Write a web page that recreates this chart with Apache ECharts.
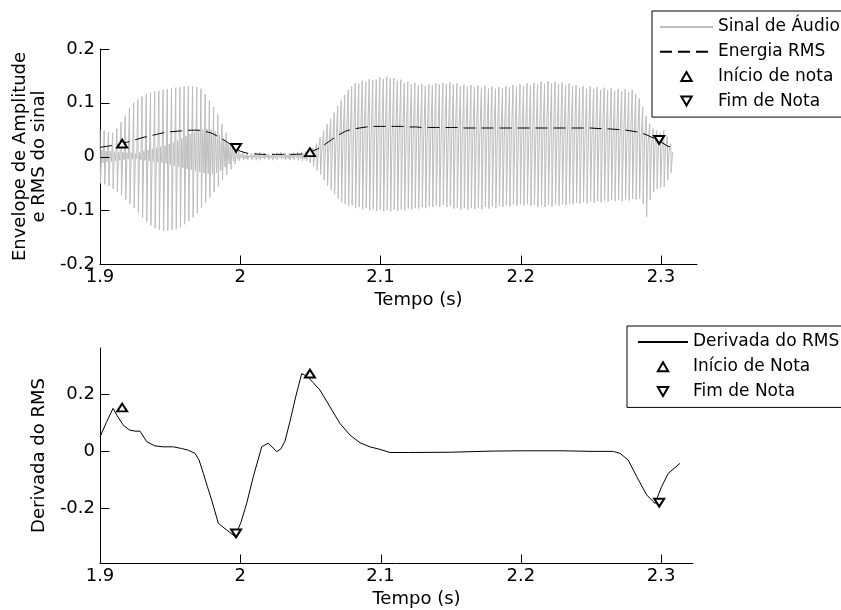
<!DOCTYPE html>
<html>
<head>
<meta charset="utf-8">
<script src="https://cdn.jsdelivr.net/npm/echarts@6.0.0/dist/echarts.min.js"></script>
<style>
  html, body { margin: 0; padding: 0; background: #fff; }
  #chart { width: 841px; height: 610px; }
</style>
</head>
<body>
<div id="chart"></div>
<script>
// ---- Audio signal, one entry per waveform cycle ----
// First note and the quiet gap after it: peak, trough and the inner swing of each cycle
const note1Start = 1.9;
const note1Period = 0.003;
const note1Peaks = [
  0.050, 0.048, 0.046, 0.044, 0.052, 0.064, 0.076, 0.090, 0.100, 0.106,
  0.112, 0.116, 0.119, 0.121, 0.122, 0.124, 0.125, 0.127, 0.128, 0.129,
  0.130, 0.131, 0.131, 0.129, 0.126, 0.116, 0.104, 0.092, 0.078, 0.060,
  0.044, 0.026, 0.014, 0.010, 0.008, 0.007, 0.006, 0.007, 0.008, 0.006,
  0.005, 0.006, 0.007, 0.008, 0.007, 0.006, 0.007, 0.008, 0.009
];
const note1Troughs = [
  -0.050, -0.052, -0.055, -0.060, -0.066, -0.072, -0.080, -0.088, -0.096, -0.104,
  -0.114, -0.122, -0.128, -0.133, -0.136, -0.138, -0.138, -0.137, -0.135, -0.132,
  -0.126, -0.120, -0.113, -0.105, -0.096, -0.086, -0.076, -0.066, -0.056, -0.044,
  -0.034, -0.024, -0.014, -0.008, -0.007, -0.006, -0.006, -0.007, -0.006, -0.005,
  -0.006, -0.007, -0.006, -0.005, -0.006, -0.007, -0.006, -0.007, -0.008
];
const note1InnerHigh = [
  0.012, 0.010, 0.010, 0.009, 0.008, 0.008, 0.007, 0.007, 0.006, 0.008,
  0.010, 0.012, 0.014, 0.016, 0.018, 0.020, 0.023, 0.026, 0.030, 0.034,
  0.038, 0.042, 0.045, 0.048, 0.050, 0.051, 0.050, 0.046, 0.040, 0.032,
  0.024, 0.016, 0.010, 0.004, 0.003, 0.002, 0.003, 0.004, 0.002, 0.003,
  0.002, 0.004, 0.003, 0.002, 0.003, 0.004, 0.003, 0.004, 0.005
];
const note1InnerLow = [
  -0.012, -0.010, -0.009, -0.008, -0.007, -0.006, -0.005, -0.005, -0.004, -0.006,
  -0.007, -0.008, -0.009, -0.010, -0.011, -0.013, -0.015, -0.017, -0.019, -0.021,
  -0.023, -0.025, -0.027, -0.029, -0.031, -0.032, -0.032, -0.030, -0.026, -0.020,
  -0.014, -0.009, -0.005, -0.003, -0.004, -0.002, -0.003, -0.004, -0.003, -0.002,
  -0.003, -0.004, -0.002, -0.003, -0.004, -0.003, -0.002, -0.004, -0.005
];

// Second note: peak, trough and the rebound level of each cycle
const note2Start = 2.047;
const note2Period = 0.0025;
const note2Peaks = [
  0.010, 0.012, 0.016, 0.024, 0.036, 0.048, 0.060, 0.070, 0.082, 0.094,
  0.104, 0.114, 0.124, 0.130, 0.136, 0.135, 0.141, 0.139, 0.144, 0.142,
  0.143, 0.147, 0.144, 0.148, 0.145, 0.146, 0.141, 0.143, 0.137, 0.139,
  0.134, 0.137, 0.133, 0.135, 0.131, 0.134, 0.132, 0.136, 0.134, 0.137,
  0.135, 0.138, 0.134, 0.136, 0.131, 0.134, 0.130, 0.133, 0.129, 0.132,
  0.128, 0.131, 0.127, 0.130, 0.126, 0.129, 0.127, 0.131, 0.129, 0.133,
  0.130, 0.134, 0.131, 0.136, 0.132, 0.137, 0.134, 0.139, 0.135, 0.140,
  0.136, 0.139, 0.135, 0.138, 0.133, 0.136, 0.131, 0.133, 0.128, 0.131,
  0.126, 0.130, 0.125, 0.129, 0.124, 0.128, 0.123, 0.127, 0.122, 0.126,
  0.121, 0.125, 0.120, 0.124, 0.116, 0.108, 0.092, 0.076, 0.061, 0.052,
  0.048, 0.044, 0.049, 0.038, 0.024
];
const note2Troughs = [
  -0.008, -0.012, -0.018, -0.026, -0.034, -0.044, -0.054, -0.062, -0.070, -0.078,
  -0.085, -0.088, -0.092, -0.091, -0.096, -0.094, -0.098, -0.096, -0.100, -0.098,
  -0.101, -0.099, -0.102, -0.100, -0.102, -0.099, -0.101, -0.098, -0.100, -0.097,
  -0.099, -0.096, -0.097, -0.094, -0.096, -0.093, -0.094, -0.091, -0.093, -0.090,
  -0.094, -0.092, -0.097, -0.095, -0.099, -0.096, -0.099, -0.096, -0.098, -0.095,
  -0.098, -0.094, -0.097, -0.093, -0.096, -0.092, -0.094, -0.091, -0.093, -0.089,
  -0.092, -0.089, -0.091, -0.088, -0.092, -0.090, -0.094, -0.091, -0.094, -0.090,
  -0.093, -0.090, -0.092, -0.089, -0.091, -0.088, -0.089, -0.086, -0.088, -0.085,
  -0.087, -0.084, -0.086, -0.083, -0.085, -0.082, -0.084, -0.081, -0.083, -0.080,
  -0.083, -0.080, -0.082, -0.079, -0.080, -0.078, -0.088, -0.112, -0.080, -0.066,
  -0.060, -0.058, -0.056, -0.044, -0.030
];
const note2Rebound = [
  0.004, 0.006, 0.008, 0.010, 0.012, 0.015, 0.018, 0.021, 0.024, 0.026,
  0.028, 0.030, 0.031, 0.029, 0.032, 0.030, 0.033, 0.031, 0.029, 0.032,
  0.034, 0.031, 0.030, 0.033, 0.032, 0.030, 0.031, 0.034, 0.032, 0.030,
  0.031, 0.033, 0.030, 0.029, 0.032, 0.031, 0.033, 0.030, 0.032, 0.031,
  0.029, 0.031, 0.033, 0.030, 0.032, 0.031, 0.029, 0.030, 0.032, 0.031,
  0.033, 0.030, 0.031, 0.032, 0.029, 0.031, 0.033, 0.030, 0.031, 0.032,
  0.030, 0.032, 0.031, 0.033, 0.030, 0.031, 0.032, 0.034, 0.031, 0.030,
  0.032, 0.031, 0.033, 0.030, 0.031, 0.032, 0.030, 0.029, 0.031, 0.030,
  0.032, 0.030, 0.029, 0.031, 0.030, 0.028, 0.030, 0.029, 0.031, 0.030,
  0.029, 0.030, 0.031, 0.029, 0.030, 0.030, 0.026, 0.024, 0.022, 0.020,
  0.018, 0.016, 0.014, 0.010, 0.008
];

// ---- RMS energy, one frame every 5 ms from 1.900 s ----
const rmsStart = 1.9;
const rmsStep = 0.005;
const rmsValues = [
  0.017, 0.019, 0.021, 0.024, 0.027, 0.031, 0.035, 0.038, 0.041, 0.044,
  0.046, 0.047, 0.048, 0.049, 0.049, 0.047, 0.043, 0.036, 0.028, 0.019,
  0.010, 0.006, 0.005, 0.004, 0.004, 0.004, 0.004, 0.004, 0.004, 0.005,
  0.008, 0.014, 0.022, 0.031, 0.040, 0.047, 0.051, 0.053, 0.055, 0.056,
  0.056, 0.056, 0.056, 0.056, 0.055, 0.055, 0.054, 0.054, 0.054, 0.054,
  0.054, 0.054, 0.053, 0.053, 0.053, 0.053, 0.053, 0.053, 0.053, 0.053,
  0.053, 0.053, 0.053, 0.053, 0.053, 0.053, 0.053, 0.053, 0.053, 0.053,
  0.053, 0.052, 0.052, 0.051, 0.050, 0.049, 0.047, 0.045, 0.040, 0.034,
  0.027, 0.019, 0.016
];

// ---- Derivative of the RMS ----
const derivTime = [
  1.9000, 1.9045, 1.9093, 1.9120, 1.9166, 1.9210, 1.9250, 1.9285, 1.9333, 1.9392,
  1.9450, 1.9523, 1.9582, 1.9630, 1.9677, 1.9705, 1.9737, 1.9766, 1.9796, 1.9844,
  1.9903, 1.9963, 2.0005, 2.0046, 2.0093, 2.0153, 2.0200, 2.0260, 2.0290, 2.0319,
  2.0355, 2.0395, 2.0438, 2.0480, 2.0520, 2.0569, 2.0640, 2.0711, 2.0783, 2.0854,
  2.0925, 2.0996, 2.1068, 2.1200, 2.1500, 2.1800, 2.2000, 2.2300, 2.2500, 2.2660,
  2.2708, 2.2767, 2.2827, 2.2898, 2.2957, 2.3004, 2.3052, 2.3135
];
const derivValue = [
  0.050, 0.100, 0.150, 0.126, 0.091, 0.074, 0.070, 0.070, 0.033, 0.018,
  0.015, 0.015, 0.009, 0.003, -0.008, -0.030, -0.078, -0.125, -0.172, -0.254,
  -0.277, -0.300, -0.250, -0.183, -0.090, 0.015, 0.028, -0.002, 0.008, 0.035,
  0.105, 0.190, 0.272, 0.262, 0.240, 0.214, 0.155, 0.097, 0.056, 0.029,
  0.015, 0.006, -0.005, -0.005, -0.004, 0.000, 0.001, 0.001, -0.001, -0.001,
  -0.008, -0.032, -0.090, -0.154, -0.184, -0.125, -0.078, -0.043
];

// ---- Detected note boundaries ----
const onsetTimes = [1.9158, 2.0497];
const offsetTimes = [1.9970, 2.2987];
const onsetRms = [0.024, 0.008];
const offsetRms = [0.016, 0.031];
const onsetDeriv = [0.153, 0.272];
const offsetDeriv = [-0.289, -0.181];

// ---- Tick labels ----
const timeTicks = [1.9, 2.0, 2.1, 2.2, 2.3];
const envelopeTicks = [-0.2, -0.1, 0, 0.1, 0.2];
const derivTicks = [-0.2, 0, 0.2];

// ---------------------------------------------------------------
const signalData = [];
// each cycle: sharp peak, fast drop to the trough, then the slower inner swing(s)
note1Peaks.forEach((p, k) => {
  const t = note1Start + k * note1Period;
  signalData.push([t, p]);
  signalData.push([t + 0.12 * note1Period, note1Troughs[k]]);
  signalData.push([t + 0.42 * note1Period, note1InnerHigh[k]]);
  signalData.push([t + 0.72 * note1Period, note1InnerLow[k]]);
});
note2Peaks.forEach((p, k) => {
  const t = note2Start + k * note2Period;
  signalData.push([t, p]);
  signalData.push([t + 0.12 * note2Period, note2Troughs[k]]);
  signalData.push([t + 0.5 * note2Period, note2Rebound[k]]);
});

const rmsData = rmsValues.map((v, i) => [rmsStart + i * rmsStep, v]);
const derivData = derivTime.map((t, i) => [t, derivValue[i]]);
const pairs = (xs, ys) => xs.map((x, i) => [x, ys[i]]);

const UP = 'path://M5,0L10,8.66L0,8.66Z';
const DOWN = 'path://M0,0L10,0L5,8.66Z';
const FONT = 'DejaVu Sans';
const txt = { color: '#000', fontFamily: FONT, fontSize: 18 };
const legendTxt = { color: '#000', fontFamily: FONT, fontSize: 17, lineHeight: 20 };
const TICK_LEN = 9;

const axisRanges = [
  { xMin: 1.9, xMax: 2.3257, yMin: -0.2, yMax: 0.2 },
  { xMin: 1.9, xMax: 2.3228, yMin: -0.393, yMax: 0.362 }
];

function timeAxis(gridIndex) {
  const r = axisRanges[gridIndex];
  return {
    type: 'value', gridIndex, min: r.xMin, max: r.xMax,
    name: 'Tempo (s)', nameLocation: 'middle', nameGap: 27,
    nameTextStyle: Object.assign({}, txt, { padding: [0, 0, 0, 40] }),
    axisLine: { onZero: false, lineStyle: { color: '#000', width: 1 } },
    axisTick: { show: false },
    axisLabel: Object.assign({}, txt, { margin: 4, customValues: timeTicks }),
    splitLine: { show: false }
  };
}

function valueAxis(gridIndex, ticks, name) {
  const r = axisRanges[gridIndex];
  return {
    type: 'value', gridIndex, min: r.yMin, max: r.yMax,
    name, nameLocation: 'middle', nameGap: 42,
    nameTextStyle: Object.assign({}, txt, { lineHeight: 19 }),
    axisLine: { show: true, onZero: false, lineStyle: { color: '#000', width: 1 } },
    axisTick: { show: false },
    axisLabel: Object.assign({}, txt, { margin: 5, customValues: ticks }),
    splitLine: { show: false }
  };
}

// Inward tick marks along the bottom and left axis lines of one panel.
function tickSeries(gridIndex, yTicks) {
  const r = axisRanges[gridIndex];
  const data = timeTicks.map(t => [t, r.yMin, 0]).concat(yTicks.map(v => [r.xMin, v, 1]));
  return {
    type: 'custom', xAxisIndex: gridIndex, yAxisIndex: gridIndex,
    dimensions: ['x', 'y', 'dir'], encode: { x: 0, y: 1 },
    data, clip: false, silent: true, z: 8,
    renderItem: function (params, api) {
      const p = api.coord([api.value(0), api.value(1)]);
      const vertical = api.value(2) < 0.5;
      const x = Math.round(p[0]) + 0.5;
      const y = Math.round(p[1]) + 0.5;
      return {
        type: 'line',
        shape: vertical
          ? { x1: x, y1: y, x2: x, y2: y - TICK_LEN }
          : { x1: x, y1: y, x2: x + TICK_LEN, y2: y },
        style: { stroke: '#000', lineWidth: 1, fill: null }
      };
    }
  };
}

function markerSeries(name, symbol, x, y, idx) {
  return {
    name, type: 'scatter', xAxisIndex: idx, yAxisIndex: idx,
    symbol, symbolSize: [10, 9], symbolKeepAspect: true,
    itemStyle: { color: '#fff', borderColor: '#000', borderWidth: 2, opacity: 1 },
    data: pairs(x, y), z: 6
  };
}

const legendBase = {
  orient: 'vertical', backgroundColor: '#fff', borderColor: '#000', borderWidth: 1,
  borderRadius: 0, itemHeight: 9, itemGap: 4.7, textStyle: legendTxt, selectedMode: false
};

const option = {
  animation: false,
  backgroundColor: '#fff',
  grid: [
    { left: 100, top: 49, width: 597, height: 215 },
    { left: 100, top: 348, width: 593, height: 215 }
  ],
  xAxis: [timeAxis(0), timeAxis(1)],
  yAxis: [
    valueAxis(0, envelopeTicks, 'Envelope de Amplitude\ne RMS do sinal'),
    valueAxis(1, derivTicks, 'Derivada do RMS')
  ],
  legend: [
    Object.assign({}, legendBase, {
      left: 652, top: 11, itemWidth: 53, padding: [6, 30, 6, 7],
      data: [
        { name: 'Sinal de Áudio', itemStyle: { opacity: 0 } },
        { name: 'Energia RMS', itemStyle: { opacity: 0 } },
        'Início de nota', 'Fim de Nota'
      ]
    }),
    Object.assign({}, legendBase, {
      left: 627, top: 326, itemWidth: 50, padding: [6, 30, 6, 10],
      data: [
        { name: 'Derivada do RMS', itemStyle: { opacity: 0 } },
        'Início de Nota', 'Fim de Nota'
      ]
    })
  ],
  series: [
    {
      name: 'Sinal de Áudio', type: 'line', xAxisIndex: 0, yAxisIndex: 0,
      data: signalData, symbol: 'none', clip: true,
      lineStyle: { color: '#bdbdbd', width: 1 }, itemStyle: { color: '#bdbdbd' }, z: 2
    },
    {
      name: 'Energia RMS', type: 'line', xAxisIndex: 0, yAxisIndex: 0,
      data: rmsData, symbol: 'none',
      lineStyle: { color: '#000', width: 1, type: [12, 6] }, itemStyle: { color: '#000' }, z: 4
    },
    markerSeries('Início de nota', UP, onsetTimes, onsetRms, 0),
    markerSeries('Fim de Nota', DOWN, offsetTimes, offsetRms, 0),
    {
      name: 'Derivada do RMS', type: 'line', xAxisIndex: 1, yAxisIndex: 1,
      data: derivData, symbol: 'none',
      lineStyle: { color: '#000', width: 1 }, itemStyle: { color: '#000' }, z: 4
    },
    markerSeries('Início de Nota', UP, onsetTimes, onsetDeriv, 1),
    markerSeries('Fim de Nota', DOWN, offsetTimes, offsetDeriv, 1),
    tickSeries(0, envelopeTicks),
    tickSeries(1, derivTicks)
  ]
};

const chart = echarts.init(document.getElementById('chart'), null, { renderer: 'canvas' });
chart.setOption(option);
</script>
</body>
</html>
